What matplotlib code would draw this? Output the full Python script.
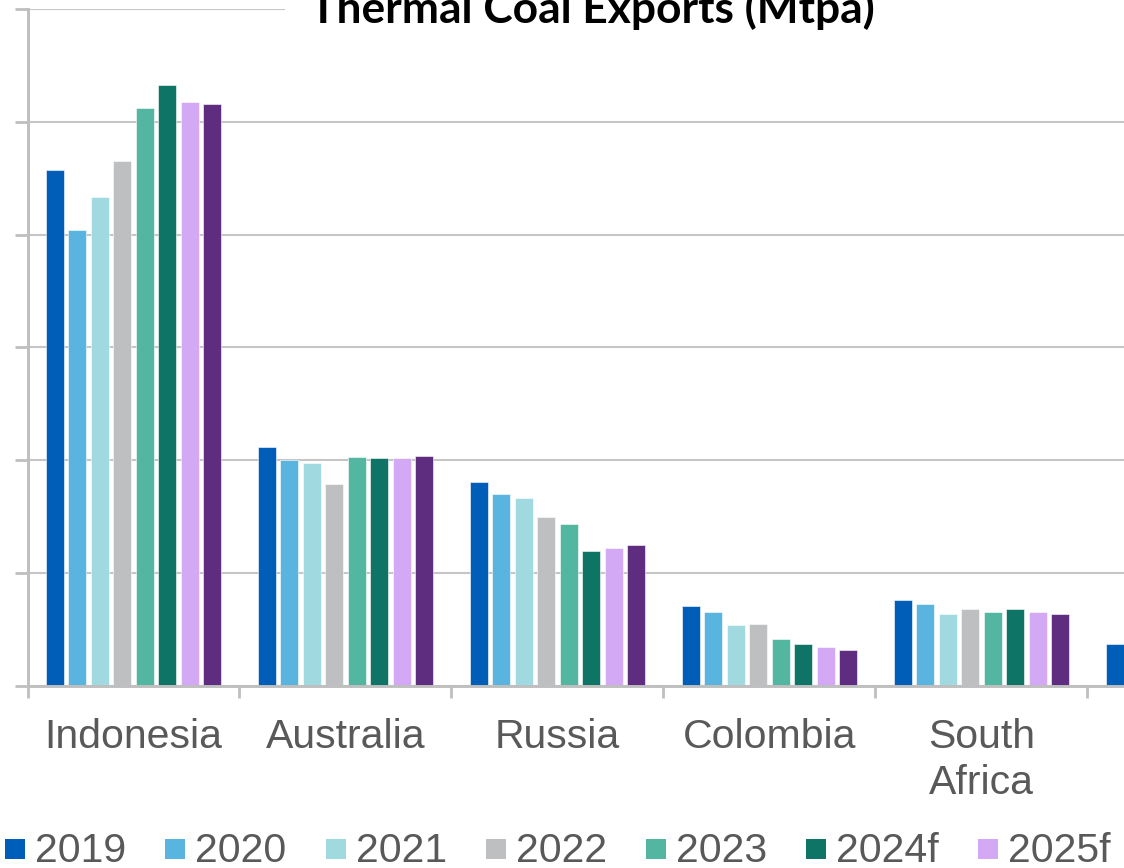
import numpy as np
import matplotlib
matplotlib.use("Agg")
import matplotlib.pyplot as plt
from matplotlib.patches import Rectangle

# thermal coal exports, Mtpa
countries = ["Indonesia", "Australia", "Russia", "Colombia", "South\nAfrica", "USA"]
years = ["2019", "2020", "2021", "2022", "2023", "2024f", "2025f", "2026f"]
colors = ["#005eb8", "#5ab4e0", "#a0d9e0", "#bebfc1", "#52b6a0", "#0e7566", "#d3a9f5", "#5f2d7f"]

nan = np.nan
indonesia = [457, 404, 433, 465, 512, 533, 518, 516]
australia = [212, 200, 198, 179, 203, 202, 202, 204]
russia = [181, 170, 167, 150, 144, 120, 122, 125]
colombia = [71, 66, 54, 55, 42, 37, 35, 32]
south_africa = [76, 73, 64, 68, 66, 68, 66, 64]
usa = [37, nan, nan, nan, nan, nan, nan, nan]

values = np.array([indonesia, australia, russia, colombia, south_africa, usa])

W, H = 1124, 868
fig = plt.figure(figsize=(W / 100, H / 100), dpi=100)
fig.patch.set_facecolor("white")

# axes runs off the right edge, last group is only partly shown
ax = fig.add_axes([27.5 / W, 182 / H, 1272 / W, 677 / H])
ax.set_xlim(-0.5, 5.5)
ax.set_ylim(0, 600)

grey = "#bfbfbf"
txt = "#595959"
fs = 29.5
pitch = 0.106
bw = 0.085
x = np.arange(len(countries))
for j, yr in enumerate(years):
    off = (j - 3.5) * pitch
    ax.bar(x + off, values[:, j], width=bw, color=colors[j],
           edgecolor="white", linewidth=0.4, zorder=3)

ax.set_yticks(np.arange(0, 601, 100))
ax.set_yticklabels([])
ax.yaxis.grid(True, color="#c6c6c6", linewidth=1.5, zorder=0)
ax.tick_params(axis="y", length=9.4, width=2.0, color=grey, direction="out")

ax.set_xticks(x)
ax.set_xticklabels(countries, fontsize=fs, color=txt, family="Liberation Sans")
ax.set_xticks(np.arange(-0.5, 6, 1), minor=True)
ax.tick_params(axis="x", which="major", length=0, pad=23)
ax.tick_params(axis="x", which="minor", length=8.6, width=2.0, color=grey, direction="out")
for t in ax.get_xticklabels():
    t.set_linespacing(1.27)

for s in ["top", "right"]:
    ax.spines[s].set_visible(False)
for s in ["left", "bottom"]:
    ax.spines[s].set_color(grey)
    ax.spines[s].set_linewidth(2.1)
    ax.spines[s].set_zorder(4)

# title box over the top of the plot area
fig.patches.append(Rectangle((285 / W, 820 / H), 1 - 285 / W, 48 / H,
                             transform=fig.transFigure, facecolor="white",
                             edgecolor="none", zorder=5))
fig.text(592 / W, (H - 23) / H, "Thermal Coal Exports (Mtpa)", fontsize=31.9,
         fontweight="bold", family="Lato", ha="center", va="baseline", zorder=6)

# legend row along the bottom, each entry placed after the previous one
renderer = fig.canvas.get_renderer()
lx = 5
for j, yr in enumerate(years):
    fig.patches.append(Rectangle((lx / W, 9 / H), 20 / W, 20 / H,
                                 transform=fig.transFigure, facecolor=colors[j],
                                 edgecolor="none"))
    t = fig.text((lx + 30) / W, 6 / H, yr, fontsize=fs, color=txt,
                 family="Liberation Sans", ha="left", va="baseline")
    tw = t.get_window_extent(renderer).width
    lx = lx + 30 + tw + 39

fig.savefig("out.png", dpi=100)
